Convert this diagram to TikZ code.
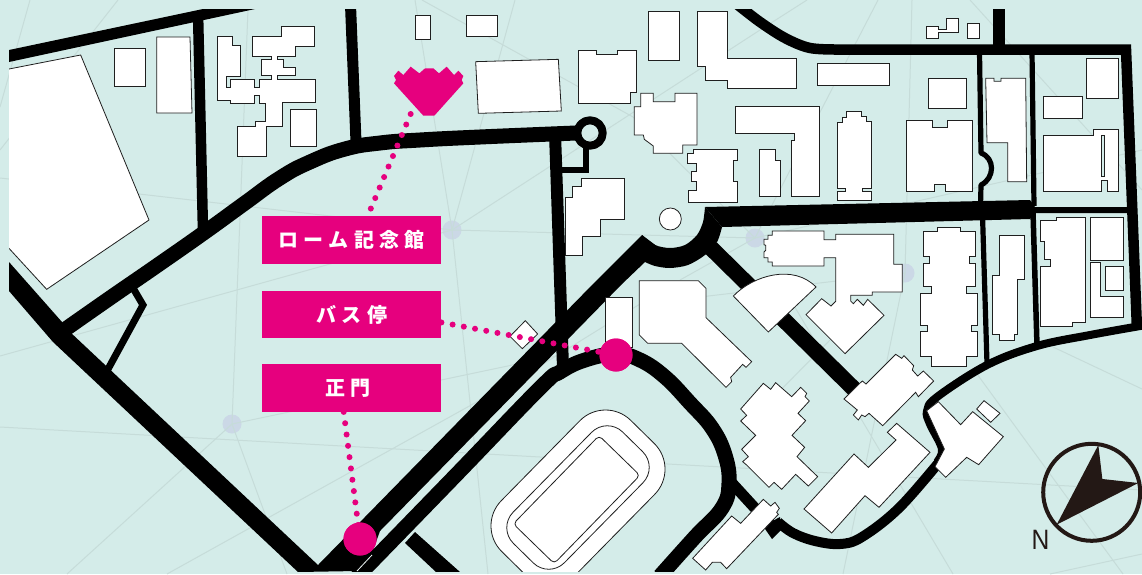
\documentclass[tikz,border=0pt]{standalone}
\usepackage{fontspec}
\setmainfont{Liberation Sans}
\newfontfamily\jpf[LetterSpace=27]{Noto Sans CJK JP}
\definecolor{bgteal}{HTML}{D4ECE9}
\definecolor{netline}{HTML}{C6DCD9}
\definecolor{hubblue}{HTML}{CBD8E6}
\definecolor{pinkm}{HTML}{E6007E}
\definecolor{compassdk}{HTML}{231815}
\tikzset{
  z/.style 2 args={shift={(#1pt,-#2pt)},x=.33333pt,y=-.33333pt},
  bld/.style={draw=black!88,fill=white,line width=.8pt,line join=miter},
  net/.style={draw=netline,line width=1pt},
  hub/.style={fill=hubblue},
  road/.style={draw=black,line width=#1,line join=round,line cap=butt},
  label box/.style={fill=pinkm,text=white,minimum width=179pt,minimum height=47.5pt,inner sep=0pt,font=\jpf\bfseries\fontsize{20}{20}\selectfont},
  dotlink/.style={draw=pinkm,line width=6pt,line cap=round,dash pattern=on 0pt off 11.4pt},
  pinmark/.style={circle,fill=pinkm,minimum size=33pt,inner sep=0pt}
}
\begin{document}
\begin{tikzpicture}[x=1pt,y=-1pt]
\useasboundingbox (0,0) rectangle (1142,574);
\fill[bgteal] (0,0) rectangle (1142,574);
% hubs
\foreach \p in {(232,424),(452,230),(755,238),(905,273)} \fill[hub] \p circle (9.5);
% faint network lines
\draw[net] (30,0)--(0,107);
\draw[net] (118,0)--(0,150);
\draw[net] (248,9)--(232,424)--(67,574);
\draw[net] (232,424)--(287,574);
\draw[net] (232,424)--(560,355);
\draw[net] (0,178)--(452,230)--(755,238);
\draw[net] (0,356)--(452,230)--(515,0);
\draw[net] (415,0)--(452,230)--(760,30)--(807,0);
\draw[net] (452,230)--(488,574);
\draw[net] (0,427)--(540,457)--(1142,490);
\draw[net] (167,574)--(527,374)--(640,304)--(905,273);
\draw[net] (422,0)--(633,117)--(755,238);
\draw[net] (878,0)--(755,238)--(680,280);
\draw[net] (912,0)--(905,273)--(843,574);
\draw[net] (970,0)--(1142,190);
\draw[net] (755,238)--(1142,150);
\draw[net] (793,304)--(953,574);
\draw[net] (977,374)--(1123,574);
\draw[net] (1053,347)--(1142,389);
\draw[net] (1050,574)--(1142,554);
\draw[net] (760,411)--(830,340);
% clipped map layer
\begin{scope}
\clip (9,9) rectangle (1142,571);
% roads
\fill[black] (9,50)--(203,9)--(255,9)--(9,62)--cycle;
\draw[road=10.5pt] (198,12)--(203,232);
\draw[road=11pt] (350.5,5)--(356,142);
\draw[road=15pt] plot[smooth,tension=.8] coordinates {(576,133) (480,137) (420,140) (380,143) (345,149) (310,162) (280,178) (245,203) (205,232) (155,267) (110,298) (60,333)};
\fill[black] (9,262)--(62,322)--(70,332)--(318,565)--(593,284)--(642,235)--(670,256)--(645,262)--(622,284)--(380,531)--(372,553)--(357,571)--(298,572)--(53,342)--(9,291)--cycle;
\draw[road=7pt,line join=miter] (133,288)--(143,305)--(107,371);
\draw[road=12pt] (555,133)--(563,368);
\draw[road=8pt] (590,133) circle (12.7);
\draw[road=6.5pt,line join=miter] (586,148)--(586,170)--(560,170);
% ring road
\draw[road=15pt] plot[smooth,tension=.7] coordinates {(352,582) (455,476) (540,388) (560,372) (585,360) (616,354) (640,360) (665,377) (690,403) (712,428) (725,455) (729,483) (722,508) (695,537) (660,576)};
\fill[black] (415,532)--(460,572)--(436,572)--(405,543)--cycle;
% circle plaza and main east road
\fill[black] plot[smooth] coordinates {(642,235) (655,245) (670,248) (685,245) (697,235) (703,222) (705,207)} -- plot[smooth] coordinates {(722,227) (717,242) (705,255) (688,265) (670,268) (655,266) (645,262)} -- cycle;
\fill[black] (705,207)--(1030,200)--(1035,207)--(1130,207)--(1130,213)--(1035,213)--(1030,219)--(722,227)--cycle;
\draw[road=16pt] (711,248)--(855,390);
% top road
\draw[road=10.5pt,line join=miter] plot[smooth,tension=.55] coordinates {(738,5) (760,22) (785,38) (810,48) (840,49.5)} -- (1126,49.5) -- (1137,330);
\draw[road=12pt] (999,5)--(999,50);
\draw[road=5.2pt] (979.5,52)--(981,153) .. controls (995,158) and (995,178) .. (981,185)--(980.5,206);
\draw[road=5.2pt] (1032,52)--(1034,206);
\draw[road=5.2pt] (982.5,215)--(987,364);
\draw[road=5.5pt] (1033,212)--(1037,346);
% southeast roads
\draw[road=8pt] plot[smooth,tension=.6] coordinates {(1146,325) (1090,335) (1037,346) (987,365) (937,397) (927,411) (930,424) (942,449) (937,462)};
\draw[road=10pt] plot[smooth,tension=.6] coordinates {(945,455) (900,507) (862,537) (840,544) (815,541) (793,533) (778,522)};
\draw[road=11pt] (731,482)--(775,530);
\fill[black] (763,526)--(772,539)--(781,530)--(780,517)--cycle;
\draw[white!70!bgteal,line width=.8pt] (372,555)--(357,571);

% stadium
\begin{scope}[shift={(578pt,-497.5pt)},rotate=45.5]
\draw[bld,rounded corners=36pt] (-92,-52.5) rectangle (92,52.5);
\draw[bld,rounded corners=22pt] (-78,-36) rectangle (78,36);
\end{scope}
\begin{scope}[shift={(576.6pt,-499.6pt)},rotate=45.8]
\draw[bld,rounded corners=4pt] (-61.5,-28.5) rectangle (61.5,28.5);
\end{scope}

% buildings: west
\begin{scope}[z={0}{0}]
\draw[bld] (27,207)--(242,165)--(447,660)--(140,868)--(27,745)--(10,730)--(10,207)--cycle;
\draw[bld] (343,144) rectangle (437,258);
\draw[bld] (470,111)--(570,111)--(576,339)--(470,339)--cycle;
\draw[bld] (651,108)--(697,108)--(697,135)--(722,135)--(722,230)--(680,230)--(680,262)--(692,262)--(692,238)--(762,238)--(762,262)--(777,262)--(777,238)--(815,238)--(815,227)--(785,227)--(785,178)--(815,178)--(815,168)--(757,168)--(757,108)--(845,108)--(845,78)--(944,78)--(944,138)--(885,138)--(885,168)--(832,168)--(832,178)--(850,178)--(850,202)--(885,202)--(885,227)--(832,227)--(832,238)--(946,238)--(946,308)--(847,308)--(847,379)--(798,379)--(798,468)--(712,468)--(712,380)--(765,380)--(765,365)--(795,365)--(795,310)--(777,310)--(777,285)--(762,285)--(762,310)--(692,310)--(692,300)--(651,300)--cycle;
\draw[bld] (871,329) rectangle (950,439);
\end{scope}
% buildings: centre north
\begin{scope}[z={380}{0}]
\draw[bld] (106,45) rectangle (152,119);
\draw[bld] (260,45) rectangle (352,110);
\draw[bld] (287,185)--(535,178)--(544,333)--(295,340)--cycle;
\draw[bld] (596,152)--(650,152)--(650,164)--(712,164)--(712,152)--(768,152)--(768,278)--(750,278)--(750,309)--(596,309)--cycle;
\draw[bld] (806,34) rectangle (899,181);
\draw[bld] (952,34)--(1043,34)--(1043,174)--(1248,174)--(1248,265)--(1043,265)--(1043,242)--(977,242)--(977,200)--(952,200)--cycle;
\draw[bld] (782,280)--(820,280)--(820,305)--(885,305)--(885,280)--(951,280)--(951,435)--(908,435)--(908,460)--(820,460)--(820,438)--(793,418)--(790,405)--(763,405)--(763,320)--(782,320)--cycle;
\draw[bld] (940,448)--(1072,448)--(1072,480)--(1060,480)--(1060,545)--(1072,545)--(1072,606)--(925,606)--(925,570)--(948,570)--(948,545)--(935,545)--(935,515)--(948,515)--(948,490)--(922,490)--(922,460)--(940,460)--cycle;
\draw[bld] (555,592)--(578,592)--(578,560)--(605,560)--(605,536)--(732,536)--(732,658)--(660,658)--(660,710)--(608,710)--(608,765)--(555,765)--cycle;
\draw[bld] (871,657) circle (33);
\end{scope}
% buildings: north east
\begin{scope}[z={760}{0}]
\draw[bld] (-75,318)--(178,318)--(178,590)--(93,590)--(93,422)--(103,422)--(103,400)--(-75,400)--cycle;
\draw[bld] (-2,447)--(45,447)--(45,480)--(61,480)--(61,590)--(-2,590)--cycle;
\draw[bld] (500,80)--(535,80)--(535,87)--(560,87)--(560,56)--(595,56)--(595,98)--(535,98)--(535,115)--(500,115)--cycle;
\draw[bld] (621,71) rectangle (658,115);
\draw[bld] (171,191) rectangle (388,256);
\draw[bld] (506,235) rectangle (619,325);
\draw[bld] (440,360)--(517,360)--(517,381)--(562,381)--(562,360)--(638,360)--(638,574)--(555,574)--(555,554)--(524,554)--(524,574)--(440,574)--cycle;
\draw[bld] (232,367)--(247,367)--(247,352)--(260,352)--(260,335)--(304,335)--(304,350)--(320,350)--(320,365)--(334,365)--(334,565)--(308,565)--(308,575)--(334,575)--(334,602)--(232,602)--(232,575)--(257,575)--(257,565)--(232,565)--cycle;
\draw[bld] (677,235)--(702,235)--(702,244)--(723,244)--(723,235)--(797,235)--(800,545)--(743,545)--(743,428)--(681,428)--cycle;
\draw[bld] (979,176) rectangle (1076,296);
\draw[bld] (849,290) rectangle (967,355);
\draw[bld] (851,406)--(1001,406)--(1001,387)--(1076,387)--(1076,574)--(1043,574)--(1043,541)--(1025,541)--(1025,574)--(851,574)--cycle;
\draw[bld,fill=bgteal] (1025,406) rectangle (1034,529);
\end{scope}
% buildings: middle east
\begin{scope}[z={730}{222}]
\draw[bld] (127,27)--(282,27)--(282,53)--(317,53)--(317,37)--(491,37)--(491,127)--(517,127)--(517,210)--(427,210)--(427,220)--(362,220)--(362,237)--(370,245)--(382,232)--(400,250)--(413,232)--(462,280)--(345,395)--(228,278)--(275,230)--(303,252)--(317,238)--(317,107)--(282,107)--(282,132)--(127,132)--(127,120)--(114,120)--(114,107)--(102,107)--(102,90)--(107,85)--(107,70)--(102,68)--(102,52)--(114,52)--(114,40)--(127,40)--cycle;
\draw[bld] (10,222) .. controls (70,160) and (190,125) .. (258,195)--(115,330)--cycle;
\end{scope}
\begin{scope}[z={915}{215}]
\draw[bld] (25,50)--(67,50)--(67,37)--(137,37)--(137,50)--(180,50)--(180,125)--(163,125)--(163,145)--(180,145)--(180,215)--(155,215)--(155,235)--(188,235)--(188,330)--(170,330)--(170,350)--(188,350)--(188,425)--(155,425)--(155,453)--(50,453)--(50,425)--(16,425)--(16,350)--(36,350)--(36,330)--(16,330)--(16,235)--(50,235)--(50,215)--(25,215)--(25,145)--(43,145)--(43,125)--(25,125)--cycle;
\draw[bld] (253,60)--(328,60)--(328,193)--(306,193)--(306,357)--(297,357)--(297,375)--(252,375)--(252,358)--(232,358)--(232,180)--(253,180)--cycle;
\draw[bld] (377,17)--(423,17)--(423,8)--(511,8)--(511,323)--(473,323)--(473,333)--(377,333)--(377,155)--(406,155)--(406,133)--(388,133)--(388,78)--(377,78)--cycle;
\draw[bld] (525,8) rectangle (625,135);
\draw[bld] (525,142)--(556,142)--(556,244)--(625,244)--(625,308)--(525,308)--cycle;
\draw[bld] (570,155) rectangle (625,225);
\end{scope}
\begin{scope}[z={730}{350}]
\draw[bld] (100,100)--(122,118)--(137,98)--(185,140)--(212,112)--(230,130)--(225,140)--(238,153)--(204,190)--(227,212)--(186,256)--(224,292)--(201,320)--(263,380)--(235,408)--(197,373)--(155,418)--(132,397)--(117,412)--(50,345)--(38,335)--(55,320)--(35,298)--(77,256)--(32,213)--(50,196)--(32,177)--cycle;
\draw[bld] (342,147)--(387,102)--(397,93)--(408,102)--(497,13)--(515,25)--(522,17)--(551,47)--(547,60)--(563,78)--(580,63)--(611,93)--(565,140)--(557,127)--(458,227)--(417,190)--(405,200)--(395,195)--(385,210)--(370,195)--(382,180)--cycle;
\end{scope}
\begin{scope}[z={760}{284}]
\draw[bld] (410,418)--(510,505)--(357,670)--(315,635)--(215,747)--(132,675)--(282,510)--(325,550)--(408,468)--(382,445)--cycle;
\draw[bld] (535,353)--(602,422)--(638,383)--(730,458)--(656,542)--(620,520)--(557,580)--(525,548)--(553,495)--(500,380)--cycle;
\draw[bld] (672,350)--(720,388)--(692,415)--(650,375)--cycle;
\end{scope}
\begin{scope}[z={600}{270}]
\draw[bld] (15,83)--(98,83)--(98,232)--(15,232)--cycle;
\draw[bld] (118,32)--(295,32)--(318,55)--(318,143)--(455,275)--(438,292)--(428,283)--(392,322)--(395,335)--(378,352)--(245,220)--(143,220)--(118,195)--cycle;
\end{scope}
\begin{scope}[z={680}{480}]
\draw[bld] (38,235)--(155,108)--(182,130)--(250,58)--(272,78)--(285,67)--(298,85)--(290,97)--(295,103)--(140,266)--(122,247)--(97,247)--(77,270)--cycle;
\end{scope}
% bus stop small building
\begin{scope}[z={380}{284}]
\draw[bld] (436,110)--(473,150)--(427,194)--(390,157)--cycle;
\end{scope}
\end{scope}

% memorial mark
\begin{scope}[z={380}{0}]
\fill[pinkm] (42,228)--(55,212)--(70,225)--(92,200)--(118,220)--(135,205)--(160,205)--(177,220)--(200,200)--(222,225)--(235,212)--(250,228)--(245,240)--(250,250)--(163,347)--(130,347)--(42,250)--(48,240)--cycle;
\coordinate (memorial) at (92,342);
\end{scope}

% labels and pins
\node[pinmark] (pingate) at (360,539) {};
\node[pinmark] (pinbus) at (616,355) {};
\node[label box,anchor=north west] (lblrohm) at (262,216) {ローム記念館};
\node[label box,anchor=north west] (lblbus) at (262,290.5) {バス停};
\node[label box,anchor=north west] (lblgate) at (262,364) {\hspace*{-7pt}正門};
\draw[dotlink] (memorial) -- ([xshift=16pt]lblrohm.north);
\draw[dotlink] ([yshift=-8pt]lblbus.east) -- (pinbus.center);
\draw[dotlink] ([xshift=-8pt]lblgate.south) -- (pingate.center);
\node[pinmark] at (pingate) {};
\node[pinmark] at (pinbus) {};

% compass
\draw[compassdk,line width=4pt] (1091.7,492.3) circle (48.5);
\begin{scope}[z={760}{284}]
\fill[compassdk] (1015,483)--(1027,585)--(1135,597)--(890,722)--cycle;
\end{scope}
\node[text=compassdk,font=\fontsize{28}{28}\selectfont,xscale=.88,inner sep=0pt] (north) at (1040.5,540) {N};
\end{tikzpicture}
\end{document}
